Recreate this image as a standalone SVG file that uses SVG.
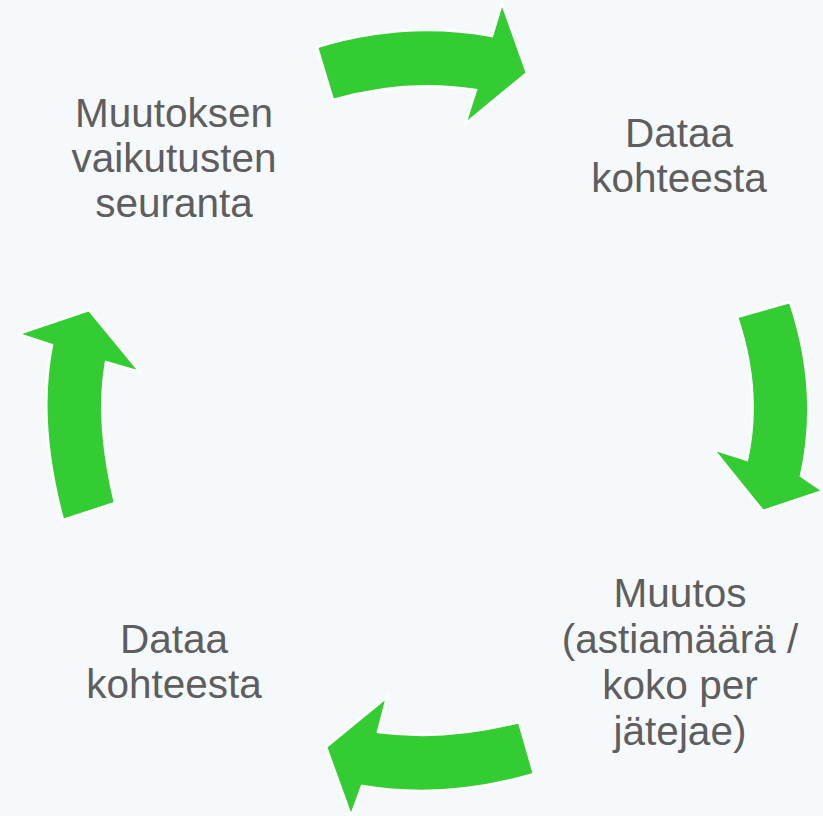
<svg xmlns="http://www.w3.org/2000/svg" width="823" height="816" viewBox="0 0 823 816">
<style>
.bg{fill:#F5F9FC}
.arrow{fill:#33CC33;stroke:#FFFFFF;stroke-width:2.5;stroke-linejoin:miter}
.lbl{font-family:"Liberation Sans",Arial,sans-serif;font-size:40.5px;fill:#5E5E5E;text-anchor:middle}
</style>
<rect class="bg" x="0" y="0" width="823" height="816"/>
<g id="connectors">
<path id="arrow-top" class="arrow" d="M317,47 Q405,20 492,36 L502,3 L527,73 L465,124 L476,90 Q405,79 333,100 Z"/>
<path id="arrow-right" class="arrow" d="M737,317 L790,302 Q820,391 801,476 L823,491 L763,511 L713,449 L747,460 Q762,391 737,317 Z"/>
<path id="arrow-bottom" class="arrow" d="M519,722 L534,774 Q446,800 362,786 L351,816 L326,747 L387,697 L378,732 Q445,741 519,722 Z"/>
<path id="arrow-left" class="arrow" d="M63,520 L115,503 Q95.5,421.5 106,362 L140,372 L89,310 L18,334 L52,345 Q36.5,421.5 63,520 Z"/>
</g>
<g id="node-seuranta">
<text class="lbl" x="174" y="127">Muutoksen</text>
<text class="lbl" x="174" y="172">vaikutusten</text>
<text class="lbl" x="174" y="217">seuranta</text>
</g>
<g id="node-data-top">
<text class="lbl" x="679" y="147">Dataa</text>
<text class="lbl" x="679" y="192">kohteesta</text>
</g>
<g id="node-muutos">
<text class="lbl" x="680" y="607">Muutos</text>
<text class="lbl" x="680" y="653">(astiamäärä /</text>
<text class="lbl" x="680" y="699">koko per</text>
<text class="lbl" x="680" y="745">jätejae)</text>
</g>
<g id="node-data-bottom">
<text class="lbl" x="174" y="653">Dataa</text>
<text class="lbl" x="174" y="698">kohteesta</text>
</g>
</svg>
